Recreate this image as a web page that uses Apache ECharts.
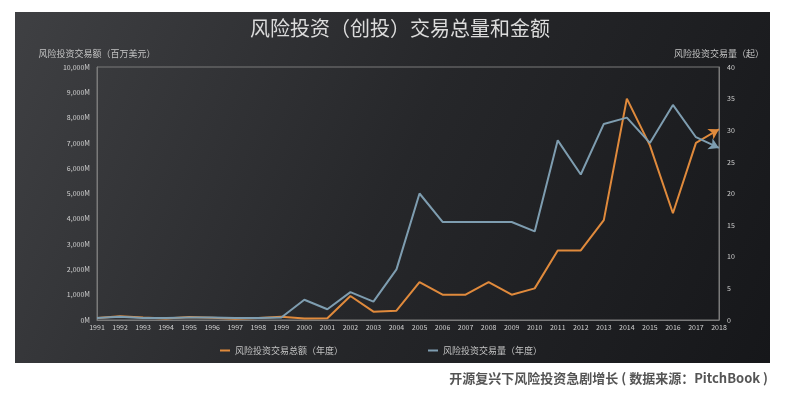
<!DOCTYPE html>
<html>
<head>
<meta charset="utf-8">
<script src="https://cdn.jsdelivr.net/npm/echarts@6/dist/echarts.min.js"></script>
<style>
html,body{margin:0;padding:0;background:#fff;}
#chart{width:800px;height:398px;}
</style>
</head>
<body>
<div id="chart"></div>
<script>
var years=['1991','1992','1993','1994','1995','1996','1997','1998','1999','2000','2001','2002','2003','2004','2005','2006','2007','2008','2009','2010','2011','2012','2013','2014','2015','2016','2017','2018'];
// 交易总额（百万美元）
var amount=[80,150,100,60,120,90,50,80,130,60,70,950,330,370,1500,1000,1000,1500,1000,1250,2750,2750,3950,8750,6900,4220,7000,7540];
// 交易量（起）
var deals=[0.3,0.5,0.3,0.3,0.4,0.4,0.3,0.3,0.4,3.2,1.7,4.4,2.9,8,20,15.5,15.5,15.5,15.5,14,28.4,23,31,32,28,34,28.9,27.2];

var orange='#e08a3c';
var blue='#7e9db0';
var font='"Noto Sans CJK SC", "Noto Sans", sans-serif';

function withArrow(arr,rot){
    return arr.map(function(v,i){
        if(i===arr.length-1){
            return {value:v,symbol:'arrow',symbolSize:[9,10],symbolRotate:rot};
        }
        return {value:v,symbol:'none'};
    });
}

var chart=echarts.init(document.getElementById('chart'));
var option={
    backgroundColor:'#fff',
    textStyle:{fontFamily:font},
    graphic:[
        {
            type:'rect',
            z:-10,
            shape:{x:15,y:12,width:755,height:351},
            style:{
                fill:new echarts.graphic.LinearGradient(0,0,1,1,[
                    {offset:0,color:'#3f4043'},
                    {offset:0.5,color:'#26272a'},
                    {offset:1,color:'#16171a'}
                ])
            }
        },
        {
            type:'text',
            right:32,
            top:372,
            style:{
                text:'开源复兴下风险投资急剧增长 ( 数据来源：PitchBook )',
                fill:'#555',
                font:'bold 13px '+font
            }
        }
    ],
    title:{
        text:'风险投资（创投）交易总量和金额',
        left:'center',
        top:13,
        textStyle:{color:'#dcdcdc',fontSize:20,fontWeight:'normal',fontFamily:font}
    },
    legend:{
        data:['风险投资交易总额（年度）','风险投资交易量（年度）'],
        bottom:38,
        left:215,
        itemGap:85,
        itemWidth:10,
        itemHeight:2,
        icon:'rect',
        textStyle:{color:'#c4c4c4',fontSize:9}
    },
    grid:{
        left:97,
        right:81,
        top:67,
        bottom:78,
        show:true,
        borderColor:'#7a7a7a',
        borderWidth:1
    },
    xAxis:{
        type:'category',
        boundaryGap:false,
        data:years,
        axisLine:{lineStyle:{color:'#7a7a7a'}},
        axisTick:{show:false},
        axisLabel:{color:'#d0d0d0',fontSize:7,interval:0,margin:4}
    },
    yAxis:[
        {
            type:'value',
            name:'风险投资交易额（百万美元）',
            nameGap:9,
            nameTextStyle:{color:'#c4c4c4',fontSize:9},
            min:0,
            max:10000,
            interval:1000,
            axisLine:{show:true,lineStyle:{color:'#7a7a7a'}},
            axisTick:{show:false},
            splitLine:{show:false},
            axisLabel:{
                color:'#d0d0d0',fontSize:7,margin:7,
                formatter:function(v){return v.toLocaleString('en-US')+'M';}
            }
        },
        {
            type:'value',
            name:'风险投资交易量（起）',
            nameGap:9,
            nameTextStyle:{color:'#c4c4c4',fontSize:9},
            min:0,
            max:40,
            interval:5,
            axisLine:{show:true,lineStyle:{color:'#7a7a7a'}},
            axisTick:{show:false},
            splitLine:{show:false},
            axisLabel:{color:'#d0d0d0',fontSize:7,margin:8}
        }
    ],
    series:[
        {
            name:'风险投资交易总额（年度）',
            type:'line',
            yAxisIndex:0,
            color:orange,
            lineStyle:{width:2,color:orange},
            itemStyle:{color:orange},
            data:withArrow(amount,-60)
        },
        {
            name:'风险投资交易量（年度）',
            type:'line',
            yAxisIndex:1,
            color:blue,
            lineStyle:{width:2,color:blue},
            itemStyle:{color:blue},
            data:withArrow(deals,-115)
        }
    ]
};
chart.setOption(option);
</script>
</body>
</html>
